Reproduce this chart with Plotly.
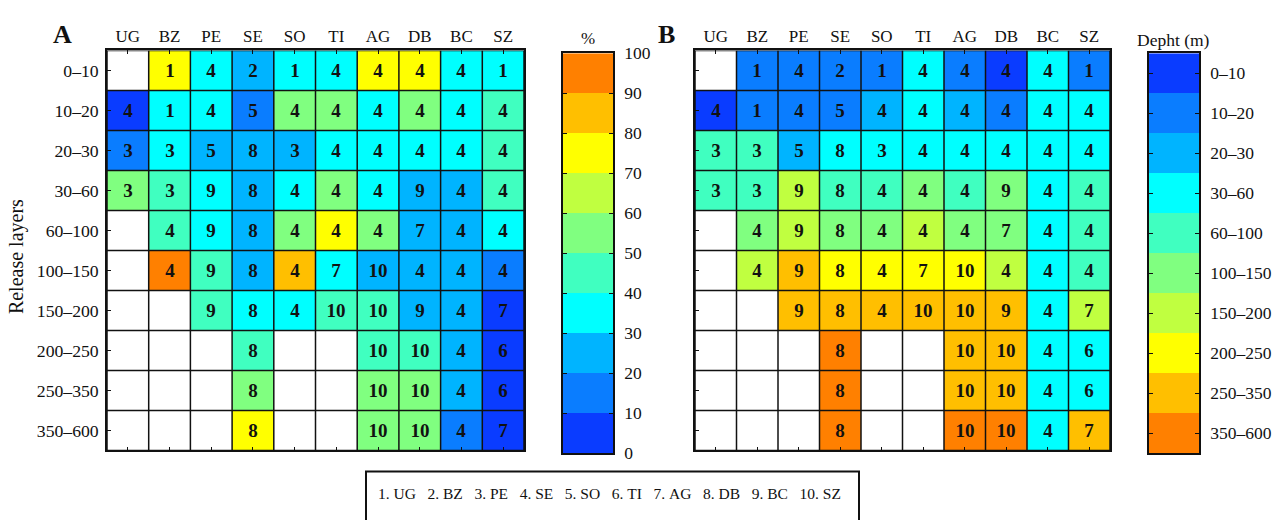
import plotly.graph_objects as go

# Release sites (columns) and release layers (rows, metres)
sites = ["UG", "BZ", "PE", "SE", "SO", "TI", "AG", "DB", "BC", "SZ"]
layers = ["0\u201310", "10\u201320", "20\u201330", "30\u201360", "60\u2013100",
          "100\u2013150", "150\u2013200", "200\u2013250", "250\u2013350", "350\u2013600"]

# Destination site number shown in each cell (None = no release)
dest = [
    [None, 1, 4, 2, 1, 4, 4, 4, 4, 1],
    [4, 1, 4, 5, 4, 4, 4, 4, 4, 4],
    [3, 3, 5, 8, 3, 4, 4, 4, 4, 4],
    [3, 3, 9, 8, 4, 4, 4, 9, 4, 4],
    [None, 4, 9, 8, 4, 4, 4, 7, 4, 4],
    [None, 4, 9, 8, 4, 7, 10, 4, 4, 4],
    [None, None, 9, 8, 4, 10, 10, 9, 4, 7],
    [None, None, None, 8, None, None, 10, 10, 4, 6],
    [None, None, None, 8, None, None, 10, 10, 4, 6],
    [None, None, None, 8, None, None, 10, 10, 4, 7],
]

# Panel A: percentage of particles reaching the destination
pct = [
    [None, 75, 35, 25, 35, 35, 75, 75, 35, 35],
    [5, 35, 35, 15, 55, 55, 35, 55, 35, 45],
    [15, 35, 25, 25, 25, 35, 35, 35, 35, 45],
    [55, 45, 35, 25, 35, 55, 35, 25, 25, 45],
    [None, 45, 35, 25, 55, 75, 55, 25, 25, 35],
    [None, 95, 45, 25, 85, 35, 25, 25, 25, 15],
    [None, None, 45, 35, 35, 45, 45, 25, 25, 5],
    [None, None, None, 45, None, None, 45, 45, 25, 5],
    [None, None, None, 55, None, None, 55, 55, 25, 5],
    [None, None, None, 75, None, None, 55, 55, 15, 5],
]

# Panel B: arrival depth class (index into depth_classes)
depth_classes = ["0\u201310", "10\u201320", "20\u201330", "30\u201360", "60\u2013100",
                 "100\u2013150", "150\u2013200", "200\u2013250", "250\u2013350", "350\u2013600"]
depth = [
    [None, 1, 1, 1, 1, 3, 1, 0, 3, 1],
    [0, 1, 1, 1, 2, 3, 2, 1, 3, 3],
    [4, 4, 2, 3, 3, 3, 3, 3, 3, 3],
    [4, 4, 6, 4, 4, 5, 4, 5, 3, 4],
    [None, 5, 6, 5, 5, 6, 5, 5, 3, 4],
    [None, 6, 8, 7, 7, 7, 7, 6, 3, 4],
    [None, None, 8, 8, 8, 8, 8, 8, 3, 6],
    [None, None, None, 9, None, None, 8, 8, 3, 3],
    [None, None, None, 9, None, None, 8, 8, 3, 3],
    [None, None, None, 9, None, None, 9, 9, 3, 8],
]

pct_ticks = [0, 10, 20, 30, 40, 50, 60, 70, 80, 90, 100]

band_colors = ["#0A3CFF", "#0A7DFF", "#00B4FF", "#00FFFF", "#40FFC0",
               "#80FF80", "#C0FF40", "#FFFF00", "#FFBF00", "#FF8000"]

W, H = 1279, 520
FONT = "Liberation Serif"
INK = "#111111"


def stepped(colors):
    n = len(colors)
    scale = []
    for i, c in enumerate(colors):
        scale.append([i / n, c])
        scale.append([(i + 1) / n, c])
    return scale


def fx(a):
    return a / W


def fy(a):
    return 1 - a / H


def px_x(a, b):
    return [fx(a), fx(b)]


def px_y(top, bottom):
    return [fy(bottom), fy(top)]


cscale = stepped(band_colors)
nx, ny = len(sites), len(layers)
xs = list(range(1, nx + 1))
ys = list(range(1, ny + 1))
cell_text = [["" if v is None else str(v) for v in row] for row in dest]
cell_font = dict(family=FONT, size=19, color=INK)

fig = go.Figure()

# Panel A grid
fig.add_trace(go.Heatmap(
    x=xs, y=ys, z=pct, text=cell_text, texttemplate="<b>%{text}</b>",
    textfont=cell_font, colorscale=cscale, zmin=0, zmax=100, showscale=False,
    hoverongaps=False, xaxis="x", yaxis="y"))

# Panel A colour bar
fig.add_trace(go.Heatmap(
    x=[0], y=[t + 5 for t in pct_ticks[:-1]],
    z=[[t + 5] for t in pct_ticks[:-1]],
    colorscale=cscale, zmin=0, zmax=100, showscale=False,
    xaxis="x2", yaxis="y2"))

# Panel B grid
fig.add_trace(go.Heatmap(
    x=xs, y=ys, z=depth, text=cell_text, texttemplate="<b>%{text}</b>",
    textfont=cell_font, colorscale=cscale, zmin=-0.5,
    zmax=len(depth_classes) - 0.5, showscale=False,
    hoverongaps=False, xaxis="x3", yaxis="y3"))

# Panel B colour bar
fig.add_trace(go.Heatmap(
    x=[0], y=list(range(len(depth_classes))),
    z=[[i] for i in range(len(depth_classes))],
    colorscale=cscale, zmin=-0.5, zmax=len(depth_classes) - 0.5, showscale=False,
    xaxis="x4", yaxis="y4"))

col_font = dict(family=FONT, size=17, color=INK)
row_font = dict(family=FONT, size=17.7, color=INK)
bar_font = dict(family=FONT, size=17.5, color=INK)
line_common = dict(showline=True, linecolor=INK, linewidth=1.5, showgrid=False,
                   zeroline=False, layer="above traces")

grid_y = px_y(42, 458)
cbar_y = px_y(45, 461)

layout = dict(
    width=W, height=H, margin=dict(l=0, r=0, t=0, b=0),
    paper_bgcolor="white", plot_bgcolor="white", showlegend=False,
    font=dict(family=FONT, color=INK),
    xaxis=dict(domain=px_x(107, 524), anchor="y", side="top", range=[0.5, nx + 0.5],
               tickvals=xs, ticktext=sites, ticks="inside", ticklen=4, tickcolor=INK,
               mirror="ticks", tickfont=col_font, fixedrange=True, **line_common),
    yaxis=dict(domain=grid_y, anchor="x", range=[ny + 0.5, 0.5],
               tickvals=ys, ticktext=layers, ticks="inside", ticklen=4, tickcolor=INK,
               mirror=True, ticklabelstandoff=3, tickfont=row_font, fixedrange=True,
               **line_common),
    xaxis2=dict(domain=px_x(563, 613), anchor="y2", range=[-0.5, 0.5],
                showticklabels=False, ticks="", mirror=True, fixedrange=True, **line_common),
    yaxis2=dict(domain=cbar_y, anchor="x2", side="right", range=[0, 100],
                tickvals=pct_ticks, ticktext=[str(t) for t in pct_ticks],
                ticks="inside", ticklen=4, tickcolor=INK, mirror="ticks",
                ticklabelstandoff=6, tickfont=bar_font, fixedrange=True, **line_common),
    xaxis3=dict(domain=px_x(695, 1110), anchor="y3", side="top", range=[0.5, nx + 0.5],
                tickvals=xs, ticktext=sites, ticks="inside", ticklen=4, tickcolor=INK,
                mirror="ticks", tickfont=col_font, fixedrange=True, **line_common),
    yaxis3=dict(domain=grid_y, anchor="x3", range=[ny + 0.5, 0.5],
                tickvals=ys, showticklabels=False, ticks="inside", ticklen=4, tickcolor=INK,
                mirror=True, fixedrange=True, **line_common),
    xaxis4=dict(domain=px_x(1149, 1199), anchor="y4", range=[-0.5, 0.5],
                showticklabels=False, ticks="", mirror=True, fixedrange=True, **line_common),
    yaxis4=dict(domain=cbar_y, anchor="x4", side="right",
                range=[len(depth_classes) - 0.5, -0.5],
                tickvals=list(range(len(depth_classes))), ticktext=depth_classes,
                ticks="inside", ticklen=4, tickcolor=INK, mirror="ticks",
                ticklabelstandoff=6, tickfont=bar_font, fixedrange=True, **line_common),
)
fig.update_layout(**layout)

# Cell borders on both grids
shapes = []
for xa, ya in (("x", "y"), ("x3", "y3")):
    for i in range(nx + 1):
        shapes.append(dict(type="line", xref=xa, yref=ya, x0=i + 0.5, x1=i + 0.5,
                           y0=0.5, y1=ny + 0.5, line=dict(color=INK, width=1.5), layer="above"))
    for j in range(ny + 1):
        shapes.append(dict(type="line", xref=xa, yref=ya, x0=0.5, x1=nx + 0.5,
                           y0=j + 0.5, y1=j + 0.5, line=dict(color=INK, width=1.5), layer="above"))

# Site key box (runs off the bottom edge of the figure)
shapes.append(dict(type="rect", xref="paper", yref="paper",
                   x0=fx(366), x1=fx(859), y0=-0.05, y1=fy(480),
                   line=dict(color=INK, width=2), fillcolor="rgba(0,0,0,0)"))
fig.update_layout(shapes=shapes)

key_text = "\u00a0\u00a0\u00a0".join(f"{i + 1}.\u00a0{s}" for i, s in enumerate(sites))

annotations = [
    dict(text="<b>A</b>", x=fx(51), y=fy(25), xref="paper", yref="paper",
         xanchor="left", yanchor="middle", showarrow=False,
         font=dict(family=FONT, size=26, color=INK)),
    dict(text="<b>B</b>", x=fx(656), y=fy(25), xref="paper", yref="paper",
         xanchor="left", yanchor="middle", showarrow=False,
         font=dict(family=FONT, size=26, color=INK)),
    dict(text="%", x=fx(588), y=fy(30), xref="paper", yref="paper",
         xanchor="center", yanchor="middle", showarrow=False,
         font=dict(family=FONT, size=17, color=INK)),
    dict(text="Depht (m)", x=fx(1173), y=fy(31), xref="paper", yref="paper",
         xanchor="center", yanchor="middle", showarrow=False,
         font=dict(family=FONT, size=17.5, color=INK)),
    dict(text="Release layers", x=fx(16), y=fy(257), xref="paper", yref="paper",
         xanchor="center", yanchor="middle", textangle=-90, showarrow=False,
         font=dict(family=FONT, size=20, color=INK)),
    dict(text=key_text, x=fx(609), y=fy(503), xref="paper", yref="paper",
         xanchor="center", yanchor="middle", showarrow=False,
         font=dict(family=FONT, size=15.5, color=INK)),
]
fig.update_layout(annotations=annotations)

fig.write_html("out.html")
